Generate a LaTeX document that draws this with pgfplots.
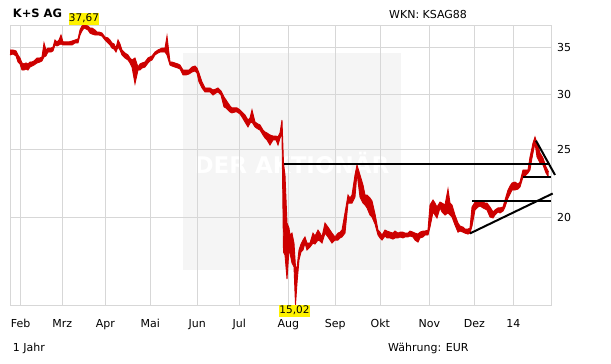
\documentclass[border=0pt]{standalone}
\usepackage{fontspec}
\setmainfont{DejaVu Sans}
\usepackage{pgfplots}
\pgfplotsset{compat=1.18}
\usepgfplotslibrary{fillbetween}
\usepackage{pgfplotstable}
\definecolor{mred}{RGB}{205,0,0}
\definecolor{gridgray}{RGB}{215,215,215}
\definecolor{wm}{RGB}{245,245,245}
\pgfplotstableread{
x hi lo
10 34.70 34.14
13 34.70 34.25
16 34.59 34.03
18 34.14 33.36
20 33.80 33.14
22 33.25 32.49
24 33.14 32.49
26 33.25 32.60
28 33.14 32.49
30 33.36 32.81
32 33.36 32.92
34 33.47 33.03
37 33.80 33.25
40 33.80 33.36
42 33.92 33.47
44 35.51 33.92
46 34.70 34.03
48 34.92 34.47
51 34.92 34.47
53 35.04 34.59
55 35.86 35.28
57 35.63 35.16
59 35.86 35.28
61 36.45 35.39
63 35.63 35.28
66 35.63 35.28
69 35.63 35.28
72 35.74 35.28
75 35.86 35.51
78 35.98 35.51
80 37.06 36.45
82 37.55 36.94
84 37.67 37.30
86 37.60 37.18
88 37.55 37.06
90 37.30 36.69
92 37.30 36.57
95 37.06 36.45
97 36.81 36.45
99 36.81 36.45
102 36.69 36.33
105 36.21 35.86
108 36.10 35.51
110 35.86 35.28
112 35.51 34.92
114 35.39 34.81
116 34.92 34.47
118 35.86 35.04
120 35.39 34.70
122 34.70 34.14
125 34.36 33.80
128 34.14 33.58
130 33.80 33.25
132 33.58 32.81
135 33.80 31.07
138 32.81 32.49
140 33.14 32.49
142 33.25 32.70
145 33.36 32.81
148 33.80 33.25
150 33.92 33.47
152 34.03 33.58
155 34.47 34.14
158 34.70 34.36
160 34.81 34.47
162 34.92 34.47
165 34.92 34.47
167 36.33 34.14
170 33.36 33.03
172 33.36 32.92
175 33.25 32.81
178 33.14 32.70
180 33.03 32.60
183 32.49 31.97
186 32.49 31.97
189 32.49 32.07
192 32.81 32.28
195 32.92 32.39
197 32.70 32.18
199 32.18 31.24
202 31.24 30.63
205 30.63 30.23
208 30.63 30.23
210 30.63 30.23
213 30.43 29.93
216 30.53 30.13
218 30.63 30.23
221 30.33 29.93
224 29.74 28.78
226 29.45 28.69
228 29.16 28.50
230 28.88 28.31
232 28.69 28.22
235 28.69 28.31
237 28.69 28.31
240 28.50 28.12
242 28.31 27.85
245 28.03 27.39
248 27.57 26.95
250 27.75 27.30
252 28.50 27.39
255 27.39 26.95
258 27.21 26.77
260 27.13 26.68
263 26.68 26.25
265 26.51 25.99
267 26.42 25.82
270 26.25 25.40
273 26.16 25.82
276 26.16 25.82
278 26.08 25.40
280 26.42 25.99
282 27.57 26.34
283.5 23.93 17.87
285 23.02 17.70
287 19.66 16.36
289 19.34 17.99
290 18.90 17.82
292 19.02 17.24
294 18.41 17.02
295.5 17.02 15.02
297 16.96 16.14
299 17.99 17.41
301 18.35 17.88
303 18.59 17.99
305 18.78 18.41
307 18.41 17.99
310 18.41 18.17
313 19.02 18.41
315 18.84 18.35
318 19.21 18.59
320 19.02 18.53
322 18.78 18.41
325 19.66 19.02
328 19.40 18.78
330 19.21 18.59
332 19.02 18.41
335 18.78 18.59
338 19.02 18.59
340 19.08 18.72
342 19.21 18.78
345 20.32 19.02
348 21.55 20.99
350 21.34 20.99
352 21.55 20.99
355 23.02 21.41
357 23.79 23.17
360 23.02 21.41
363 22.27 20.99
365 21.55 20.86
367 21.55 20.66
370 21.34 20.18
372 21.14 20.05
375 20.26 19.60
378 19.21 18.90
380 19.08 18.72
382 18.90 18.59
385 19.21 18.84
387 19.15 18.72
390 19.08 18.72
393 19.02 18.65
395 19.15 18.72
398 19.02 18.72
400 19.08 18.78
403 19.08 18.72
405 19.02 18.78
408 19.02 18.78
410 19.15 18.84
413 19.08 18.78
415 19.02 18.59
418 18.96 18.47
420 19.08 18.72
423 19.15 18.78
425 19.15 18.90
428 19.21 18.90
430 20.86 19.40
433 21.20 20.39
435 20.99 20.18
437 20.72 19.99
440 21.06 20.66
442 20.99 20.39
445 20.86 20.18
448 21.98 20.32
450 20.99 20.18
452 20.86 20.05
455 20.18 19.53
458 19.66 19.08
460 19.47 19.15
463 19.40 19.08
465 19.27 19.02
468 19.27 18.96
470 19.34 19.02
472 20.72 19.47
475 21.06 20.52
478 21.06 20.72
480 21.13 20.79
483 21.06 20.66
485 20.99 20.59
487 20.99 20.52
490 20.72 20.05
493 20.39 19.99
495 20.52 20.18
498 20.66 20.39
500 20.66 20.32
503 20.72 20.45
505 21.20 20.72
508 21.91 21.34
510 22.20 21.62
512 22.42 21.91
515 22.49 21.91
518 22.34 21.98
520 22.49 22.13
523 23.40 22.87
525 23.40 22.95
528 23.40 23.17
530 24.42 23.40
532 25.16 24.34
533 25.57 24.75
535 26.08 25.57
537 25.57 24.42
540 24.75 23.95
543 24.34 23.79
546 23.63 23.17
548.5 23.25 22.87
}\data
\begin{document}
\begin{tikzpicture}[x=1pt,y=1pt]
\path (0,-364) rectangle (611,0);
\begin{axis}[
  set layers,
  at={(10pt,-305pt)}, anchor=south west,
  scale only axis, width=541pt, height=280pt,
  xmin=10, xmax=551,
  ymode=log, ymin=15.02, ymax=37.67,
  xtick={20.7,62.3,105.3,150.3,197.3,239.3,288.3,335.3,380.3,429.3,474.3,513.3},
  xticklabels={Feb,Mrz,Apr,Mai,Jun,Jul,Aug,Sep,Okt,Nov,Dez,14},
  ytick={20,25,30,35}, yticklabels={20,25,30,35},
  minor ytick={}, yminorgrids=false,
  yticklabel pos=right,
  grid=major,
  major grid style={draw=gridgray, line width=1pt},
  axis line style={draw=gridgray, line width=1pt},
  major tick length=0pt, minor tick length=0pt,
  tick style={draw=none},
  tick label style={font=\fontsize{11}{13}\selectfont, inner sep=0pt},
  xticklabel style={anchor=base, yshift=-22pt},
  yticklabel style={anchor=west, xshift=6pt},
  clip=false,
]
\begin{pgfonlayer}{axis background}
\fill[wm] (axis cs:183,34.38) rectangle (axis cs:400.7,16.85);
\node[text=white, font=\bfseries\fontsize{23}{26}\selectfont, inner sep=0pt, anchor=center] at (axis cs:292,23.95) {DER AKTIONÄR};
\end{pgfonlayer}
\addplot[name path=H, mred, line width=0.9pt, mark=none] table[x=x, y=hi] {\data};
\addplot[name path=L, mred, line width=0.9pt, mark=none] table[x=x, y=lo] {\data};
\addplot[mred] fill between[of=H and L];
\addplot[black, line width=2pt] coordinates {(283.5,23.9) (550,23.9)};
\addplot[black, line width=2pt] coordinates {(536,25.76) (555,23.02)};
\addplot[black, line width=2pt] coordinates {(523,22.85) (551,22.85)};
\addplot[black, line width=2pt] coordinates {(472,21.13) (551,21.13)};
\addplot[black, line width=2pt] coordinates {(470,19.00) (552.7,21.66)};
\node[fill=yellow, anchor=south, inner xsep=0.3pt, inner ysep=0.5pt, text height=8pt, text depth=2.5pt, font=\fontsize{10.5}{12}\selectfont] at (axis cs:84,37.67) {37,67};
\node[fill=yellow, anchor=north, inner xsep=0.3pt, inner ysep=0.5pt, text height=8pt, text depth=2.5pt, font=\fontsize{10.5}{12}\selectfont] at (axis cs:294.5,15.02) {15,02};
\end{axis}
\node[anchor=base west, inner sep=0pt, font=\bfseries\fontsize{11.5}{13}\selectfont] at (12.7,-17) {K+S AG};
\node[anchor=base west, inner sep=0pt, font=\fontsize{11}{13}\selectfont] at (389,-18.3) {WKN: KSAG88};
\node[anchor=base west, inner sep=0pt, font=\fontsize{11}{13}\selectfont] at (12.7,-351.7) {1 Jahr};
\node[anchor=base west, inner sep=0pt, font=\fontsize{11}{13}\selectfont] at (388,-351.7) {Währung: EUR};
\end{tikzpicture}
\end{document}
